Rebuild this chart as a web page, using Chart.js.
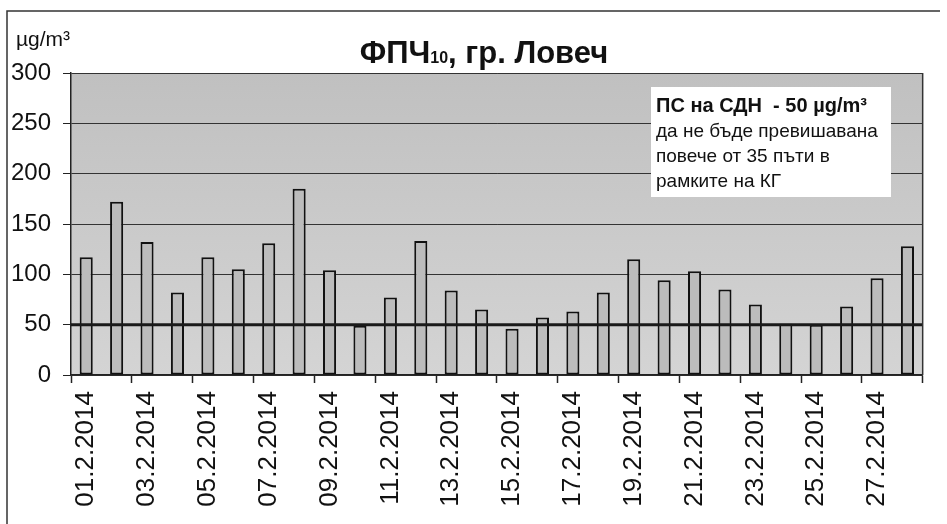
<!DOCTYPE html>
<html><head><meta charset="utf-8">
<script src="https://cdn.jsdelivr.net/npm/chart.js@4.4.0/dist/chart.umd.min.js"></script>
<style>html,body{margin:0;padding:0;background:#fff;}canvas{display:block}</style>
</head><body>
<canvas id="c" width="947" height="524"></canvas>
<script>
const dates = ['01.2.2014','02.2.2014','03.2.2014','04.2.2014','05.2.2014','06.2.2014','07.2.2014',
  '08.2.2014','09.2.2014','10.2.2014','11.2.2014','12.2.2014','13.2.2014','14.2.2014',
  '15.2.2014','16.2.2014','17.2.2014','18.2.2014','19.2.2014','20.2.2014','21.2.2014',
  '22.2.2014','23.2.2014','24.2.2014','25.2.2014','26.2.2014','27.2.2014','28.2.2014'];
const pm10 = [117,172,132,82,117,105,131,185,104,49,77,133,84,65,46,57,63,82,115,94,103,85,70,51,50,68,96,128];
const yTicks = [0,50,100,150,200,250,300];
const limitValue = 50;
const titleMain = 'ФПЧ';
const titleSub = '10';
const titleRest = ', гр. Ловеч';
const unitLabel = 'µg/m³';
const noteLines = ['ПС на СДН  - 50 µg/m³','да не бъде превишавана','повече от 35 пъти в','рамките на КГ'];

const FONT = 'Arial, "Liberation Sans", sans-serif';

const decor = {
  id: 'decor',
  beforeDraw(chart) {
    const {ctx, chartArea: a} = chart;
    ctx.save();
    ctx.fillStyle = '#fff';
    ctx.fillRect(0, 0, chart.width, chart.height);
    const g = ctx.createLinearGradient(0, a.top, 0, a.bottom);
    g.addColorStop(0, '#c0c0c0');
    g.addColorStop(1, '#d4d4d4');
    ctx.fillStyle = g;
    ctx.fillRect(a.left, a.top, a.right - a.left, a.bottom - a.top);
    ctx.strokeStyle = '#333';
    ctx.lineWidth = 1.5;
    ctx.beginPath();
    ctx.moveTo(7, 524); ctx.lineTo(7, 11); ctx.lineTo(940, 11);
    ctx.stroke();
    ctx.restore();
  },
  afterDatasetsDraw(chart) {
    const {ctx, chartArea: a, scales: {y}} = chart;
    const py = y.getPixelForValue(limitValue);
    ctx.save();
    ctx.strokeStyle = '#1a1a1a';
    ctx.lineWidth = 3;
    ctx.beginPath(); ctx.moveTo(a.left, py); ctx.lineTo(a.right, py); ctx.stroke();
    ctx.strokeStyle = '#333';
    ctx.lineWidth = 1.5;
    ctx.beginPath(); ctx.moveTo(a.right, a.top); ctx.lineTo(a.right, a.bottom); ctx.stroke();
    ctx.restore();
  },
  afterDraw(chart) {
    const {ctx} = chart;
    ctx.save();
    ctx.fillStyle = '#111';
    ctx.textBaseline = 'alphabetic';
    const fMain = 'bold 31px ' + FONT, fSub = 'bold 16px ' + FONT;
    ctx.font = fMain; const w1 = ctx.measureText(titleMain).width; const w3 = ctx.measureText(titleRest).width;
    ctx.font = fSub; const w2 = ctx.measureText(titleSub).width;
    let x = 484 - (w1 + w2 + w3) / 2;
    ctx.textAlign = 'left';
    ctx.font = fMain; ctx.fillText(titleMain, x, 63); x += w1;
    ctx.font = fSub; ctx.fillText(titleSub, x, 63); x += w2;
    ctx.font = fMain; ctx.fillText(titleRest, x, 63);
    ctx.font = '21px ' + FONT;
    ctx.fillText(unitLabel, 16, 46);
    ctx.fillStyle = '#fff';
    ctx.fillRect(651, 87, 240, 110);
    ctx.fillStyle = '#111';
    noteLines.forEach((t, i) => {
      ctx.font = (i === 0 ? 'bold 20px ' : '19px ') + FONT;
      ctx.fillText(t, 656, 112 + i * 25);
    });
    ctx.restore();
  }
};

new Chart(document.getElementById('c'), {
  type: 'bar',
  data: {
    labels: dates,
    datasets: [{
      data: pm10,
      backgroundColor: '#bcbcbc',
      borderColor: '#111',
      borderWidth: 2,
      borderSkipped: false,
      barPercentage: 0.43,
      categoryPercentage: 1
    }]
  },
  options: {
    responsive: false,
    animation: false,
    devicePixelRatio: 1,
    layout: {padding: {left: 0, right: 19, top: 73, bottom: 0}},
    plugins: {legend: {display: false}, title: {display: false}, tooltip: {enabled: false}},
    scales: {
      x: {
        offset: true,
        grid: {
          offset: true,
          drawOnChartArea: false,
          drawTicks: true,
          tickLength: 8,
          tickWidth: 1.5,
          tickColor: c => (c.index === undefined || c.index % 2 === 0) ? '#222' : 'rgba(0,0,0,0)'
        },
        border: {display: true, color: '#222', width: 1.5},
        ticks: {
          autoSkip: false,
          maxRotation: 90,
          minRotation: 90,
          padding: 8,
          color: '#111',
          font: {family: FONT, size: 26},
          callback: (v, i) => i % 2 === 0 ? dates[i] : ''
        },
        afterFit: s => { s.height = 524 - 375; }
      },
      y: {
        min: 0,
        max: 300,
        afterBuildTicks: s => { s.ticks = yTicks.map(v => ({value: v})); },
        grid: {color: '#333', lineWidth: 1, tickLength: 8, tickColor: '#222'},
        border: {display: true, color: '#222', width: 1.5},
        ticks: {padding: 12, color: '#111', font: {family: FONT, size: 24}},
        afterFit: s => { s.width = 71; }
      }
    }
  },
  plugins: [decor]
});
</script>
</body></html>
